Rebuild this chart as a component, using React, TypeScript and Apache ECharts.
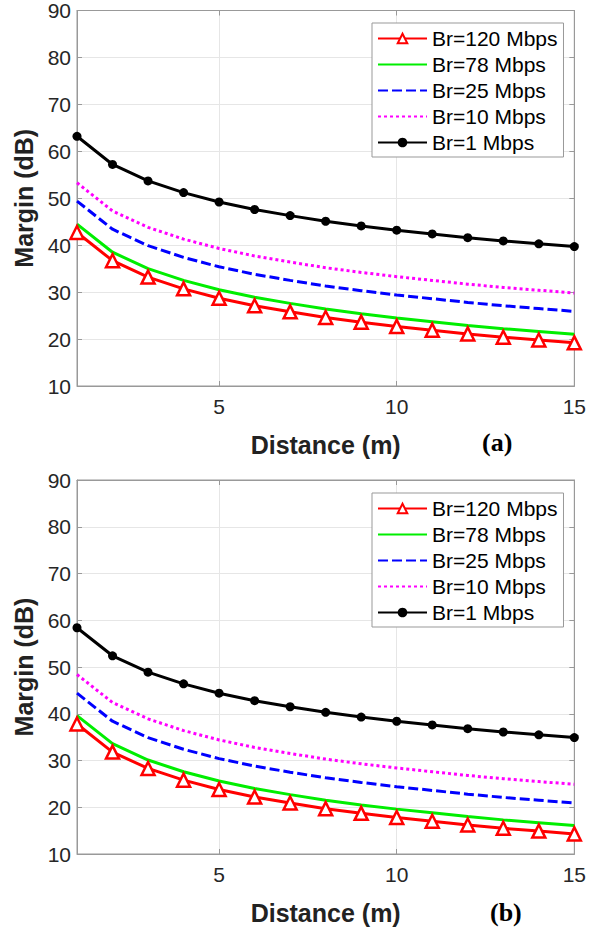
import React, { useEffect, useRef } from "react";
import * as echarts from "echarts";

const distances = [1, 2, 3, 4, 5, 6, 7, 8, 9, 10, 11, 12, 13, 14, 15];
const seriesNames = ["Br=120 Mbps", "Br=78 Mbps", "Br=25 Mbps", "Br=10 Mbps", "Br=1 Mbps"];
const yTicks = [10, 20, 30, 40, 50, 60, 70, 80, 90];
const xTicks = [5, 10, 15];

// Panel (a)
const a120 = [42.7, 36.7, 33.2, 30.7, 28.7, 27.1, 25.8, 24.6, 23.6, 22.7, 21.9, 21.1, 20.4, 19.8, 19.2];
const a78 = [44.5, 38.5, 35.0, 32.5, 30.5, 28.9, 27.6, 26.4, 25.4, 24.5, 23.7, 22.9, 22.2, 21.6, 21.0];
const a25 = [49.4, 43.4, 39.9, 37.4, 35.4, 33.8, 32.5, 31.3, 30.3, 29.4, 28.6, 27.8, 27.1, 26.5, 25.9];
const a10 = [53.3, 47.3, 43.8, 41.3, 39.3, 37.7, 36.4, 35.2, 34.2, 33.3, 32.5, 31.7, 31.0, 30.4, 29.8];
const a1 = [63.2, 57.2, 53.7, 51.2, 49.2, 47.6, 46.3, 45.1, 44.1, 43.2, 42.4, 41.6, 40.9, 40.3, 39.7];

// Panel (b)
const b120 = [37.8, 31.8, 28.3, 25.8, 23.8, 22.2, 20.9, 19.7, 18.7, 17.8, 17.0, 16.2, 15.5, 14.9, 14.3];
const b78 = [39.6, 33.6, 30.1, 27.6, 25.6, 24.0, 22.7, 21.5, 20.5, 19.6, 18.8, 18.0, 17.3, 16.7, 16.1];
const b25 = [44.4, 38.4, 34.9, 32.4, 30.4, 28.8, 27.5, 26.3, 25.3, 24.4, 23.6, 22.8, 22.1, 21.5, 20.9];
const b10 = [48.4, 42.4, 38.9, 36.4, 34.4, 32.8, 31.5, 30.3, 29.3, 28.4, 27.6, 26.8, 26.1, 25.5, 24.9];
const b1 = [58.4, 52.4, 48.9, 46.4, 44.4, 42.8, 41.5, 40.3, 39.3, 38.4, 37.6, 36.8, 36.1, 35.5, 34.9];

const FONT = '"Liberation Sans", Arial, sans-serif';
const AXIS_GRAY = "#999";

const styles = [
  { color: "#ff0000", type: "solid", symbol: "triangle", size: 13, fill: "#ffffff" },
  { color: "#00ee00", type: "solid", symbol: "none", size: 0, fill: "rgba(0,0,0,0)" },
  { color: "#0000ff", type: [10, 4], symbol: "none", size: 0, fill: "rgba(0,0,0,0)" },
  { color: "#ff00ff", type: [3, 3], symbol: "none", size: 0, fill: "rgba(0,0,0,0)" },
  { color: "#000000", type: "solid", symbol: "circle", size: 9, fill: "#000000" },
];

function makeSeries(values: number[][], gridIdx: number) {
  return values.map((vals, i) => {
    const s = styles[i];
    return {
      name: seriesNames[i],
      type: "line",
      xAxisIndex: gridIdx * 2,
      yAxisIndex: gridIdx * 2,
      data: distances.map((d, k) => [d, vals[k]]),
      symbol: s.symbol,
      symbolSize: s.size,
      showSymbol: s.symbol !== "none",
      z: 2 + (i === 0 ? 1 : 0) + (i === 4 ? 2 : 0),
      lineStyle: { color: s.color, width: 3, type: s.type },
      itemStyle: {
        color: s.fill,
        borderColor: s.symbol === "none" ? "rgba(0,0,0,0)" : s.color,
        borderWidth: s.symbol === "triangle" ? 2.5 : 0,
      },
      emphasis: { disabled: true },
    };
  });
}

function xAxis(gridIdx: number) {
  return {
    type: "value",
    gridIndex: gridIdx,
    position: "bottom",
    min: 1,
    max: 15,
    interval: 1,
    name: "Distance (m)",
    nameLocation: "middle",
    nameGap: 46,
    nameTextStyle: { fontFamily: FONT, fontSize: 25, fontWeight: "bold", color: "#222" },
    axisLine: { show: true, lineStyle: { color: AXIS_GRAY, width: 1 } },
    axisTick: { show: true, inside: true, length: 5, customValues: xTicks, lineStyle: { color: AXIS_GRAY } },
    axisLabel: { customValues: xTicks, fontFamily: FONT, fontSize: 21, color: "#262626", margin: 10 },
    splitLine: { show: true, lineStyle: { color: "#e6e6e6", width: 1 } },
  };
}

function xAxisTop(gridIdx: number) {
  return {
    type: "value",
    gridIndex: gridIdx,
    position: "top",
    min: 1,
    max: 15,
    interval: 1,
    axisLine: { show: true, lineStyle: { color: AXIS_GRAY, width: 1 } },
    axisTick: { show: true, inside: true, length: 5, customValues: xTicks, lineStyle: { color: AXIS_GRAY } },
    axisLabel: { show: false },
    splitLine: { show: false },
  };
}

function yAxis(gridIdx: number) {
  return {
    type: "value",
    gridIndex: gridIdx,
    position: "left",
    min: 10,
    max: 90,
    interval: 10,
    name: "Margin (dB)",
    nameLocation: "middle",
    nameGap: 41,
    nameRotate: 90,
    nameTextStyle: { fontFamily: FONT, fontSize: 25, fontWeight: "bold", color: "#222" },
    axisLine: { show: true, lineStyle: { color: AXIS_GRAY, width: 1 } },
    axisTick: { show: true, inside: true, length: 5, lineStyle: { color: AXIS_GRAY } },
    axisLabel: { fontFamily: FONT, fontSize: 21, color: "#262626", margin: 6, customValues: yTicks },
    splitLine: { show: true, lineStyle: { color: "#e6e6e6", width: 1 } },
  };
}

function yAxisRight(gridIdx: number) {
  return {
    type: "value",
    gridIndex: gridIdx,
    position: "right",
    min: 10,
    max: 90,
    interval: 10,
    axisLine: { show: true, lineStyle: { color: AXIS_GRAY, width: 1 } },
    axisTick: { show: true, inside: true, length: 5, lineStyle: { color: AXIS_GRAY } },
    axisLabel: { show: false },
    splitLine: { show: false },
  };
}

function legend(top: number) {
  return {
    orient: "vertical",
    left: 372,
    top: top,
    data: seriesNames,
    padding: [5, 6, 4, 5],
    itemWidth: 49,
    itemHeight: 12,
    itemGap: 5,
    borderColor: AXIS_GRAY,
    borderWidth: 1,
    borderRadius: 0,
    backgroundColor: "#ffffff",
    selectedMode: false,
    textStyle: { fontFamily: FONT, fontSize: 21, color: "#000", padding: [0, 0, 0, 0] },
  };
}

export default function App() {
  const ref = useRef<HTMLDivElement>(null);
  useEffect(() => {
    if (!ref.current) return;
    const chart = echarts.init(ref.current, null, { renderer: "svg" });
    chart.setOption({
      animation: false,
      backgroundColor: "#ffffff",
      grid: [
        { left: 77, top: 10, width: 500, height: 376, show: true, borderColor: AXIS_GRAY, borderWidth: 1, backgroundColor: "transparent" },
        { left: 77, top: 480, width: 498, height: 374, show: true, borderColor: AXIS_GRAY, borderWidth: 1, backgroundColor: "transparent" },
      ],
      xAxis: [xAxis(0), xAxisTop(0), xAxis(1), xAxisTop(1)],
      yAxis: [yAxis(0), yAxisRight(0), yAxis(1), yAxisRight(1)],
      legend: [legend(23), legend(493)],
      series: [...makeSeries([a120, a78, a25, a10, a1], 0), ...makeSeries([b120, b78, b25, b10, b1], 1)],
      graphic: [
        {
          type: "text",
          left: 482,
          top: 429,
          style: { text: "(a)", font: 'bold 26px "Liberation Serif", "Times New Roman", serif', fill: "#000" },
        },
        {
          type: "text",
          left: 490,
          top: 899,
          style: { text: "(b)", font: 'bold 26px "Liberation Serif", "Times New Roman", serif', fill: "#000" },
        },
      ],
    });
    return () => chart.dispose();
  }, []);
  return (
    <div
      ref={ref}
      style={{ position: "absolute", left: 0, top: 0, width: 589, height: 930, background: "#fff" }}
    />
  );
}
